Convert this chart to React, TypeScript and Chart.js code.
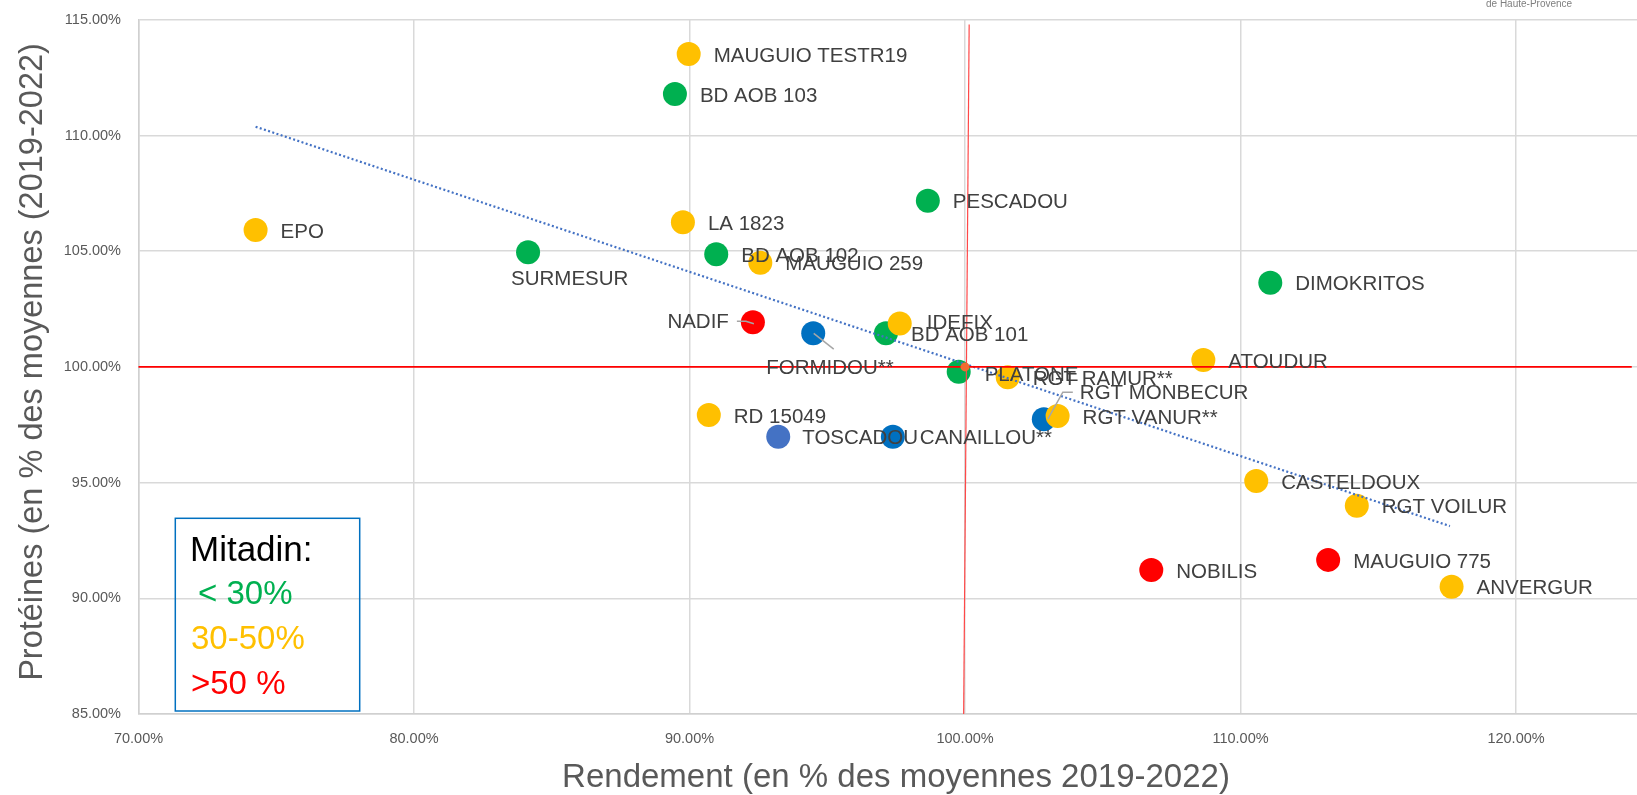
import React, { useEffect, useRef } from "react";
import { Chart, registerables } from "chart.js";

Chart.register(...registerables);

// ---------- data ----------
const varieties = [
  "MAUGUIO TESTR19", "BD AOB 103", "PESCADOU", "LA 1823", "EPO", "BD AOB 102",
  "MAUGUIO 259", "SURMESUR", "DIMOKRITOS", "NADIF", "IDEFIX", "FORMIDOU**",
  "BD AOB 101", "ATOUDUR", "PLATONE", "RGT RAMUR**", "RGT MONBECUR", "RGT VANUR**",
  "RD 15049", "TOSCADOU", "CANAILLOU**", "CASTELDOUX", "RGT VOILUR", "NOBILIS",
  "MAUGUIO 775", "ANVERGUR",
];
// Rendement (% of 2019-2022 mean)
const rendement = [
  89.97, 89.47, 98.65, 89.76, 74.25, 90.97,
  92.57, 84.14, 111.08, 92.3, 97.63, 94.49,
  97.13, 108.65, 99.77, 101.55, 102.86, 103.36,
  90.7, 93.22, 97.38, 110.57, 114.22, 106.76,
  113.18, 117.66,
];
// Protéines (% of 2019-2022 mean)
const proteines = [
  113.52, 111.79, 107.18, 106.25, 105.92, 104.87,
  104.5, 104.95, 103.64, 101.93, 101.88, 101.45,
  101.45, 100.3, 99.79, 99.55, 97.74, 97.88,
  97.92, 96.98, 96.98, 95.07, 94.0, 91.22,
  91.66, 90.5,
];
// Mitadin class: low (<30%), mid (30-50%), high (>50%), nd / nd2 (not classified)
const mitadin = [
  "mid", "low", "low", "mid", "mid", "low",
  "mid", "low", "low", "high", "mid", "nd",
  "low", "mid", "low", "mid", "nd", "mid",
  "mid", "nd2", "nd", "mid", "mid", "high",
  "high", "mid",
];
// Linear trend line endpoints
const trendX = [74.25, 117.6];
const trendY = [110.38, 93.12];
// Reference lines at 100 %
const refHX = [69.9, 124.2];
const refHY = [100, 100];
const refVX = [100.15, 99.95];
const refVY = [114.8, 85];
const centerX = [100];
const centerY = [100];
// Axis ticks
const xTicks = [70, 80, 90, 100, 110, 120];
const yMin = 85;
const yMax = 115;
const xMin = 70;
const xMax = 124.39;

const legendTitle = "Mitadin:";
const legendItems = ["< 30%", "30-50%", ">50 %"];
const xTitle = "Rendement (en % des moyennes 2019-2022)";
const yTitle = "Protéines (en % des moyennes (2019-2022)";
const logoText = "de Haute-Provence";

// ---------- styles / layout ----------
const FONT = "'Liberation Sans', Arial, sans-serif";
const groupColors: Record<string, string> = {
  low: "#00B050",
  mid: "#FFC000",
  high: "#FF0000",
  nd: "#0070C0",
  nd2: "#4472C4",
};
const groupOrder: Record<string, number> = { mid: 3, high: 4, low: 5, nd: 6, nd2: 7 };
const legendColors = ["#00B050", "#FFC000", "#FF0000"];

type Place = { dx: number; dy: number; align: CanvasTextAlign };
const defaultPlace: Place = { dx: 25, dy: 2, align: "left" };
const labelPlace: Record<string, Place> = {
  SURMESUR: { dx: -17, dy: 27, align: "left" },
  NADIF: { dx: -24, dy: 0, align: "right" },
  "FORMIDOU**": { dx: -47, dy: 35, align: "left" },
  "RGT MONBECUR": { dx: 36, dy: -26, align: "left" },
  IDEFIX: { dx: 27, dy: 0, align: "left" },
  PLATONE: { dx: 26, dy: 4, align: "left" },
  TOSCADOU: { dx: 24, dy: 1.5, align: "left" },
  "CANAILLOU**": { dx: 27, dy: 1.5, align: "left" },
};
const leaders: Record<string, number[][]> = {
  NADIF: [[-16, -1], [-7, -1], [1, 1.5]],
  "FORMIDOU**": [[0.5, 0], [20.5, 15.7]],
  "RGT MONBECUR": [[4, 0], [19, -27], [29, -27]],
};

const overlay = {
  id: "overlay",
  afterDatasetsDraw(chart: any) {
    const ctx: CanvasRenderingContext2D = chart.ctx;
    const xs = chart.scales.x;
    const ys = chart.scales.y;
    ctx.save();
    // leader lines
    ctx.strokeStyle = "#A6A6A6";
    ctx.lineWidth = 1.5;
    Object.keys(leaders).forEach((name) => {
      const i = varieties.indexOf(name);
      const px = xs.getPixelForValue(rendement[i]);
      const py = ys.getPixelForValue(proteines[i]);
      ctx.beginPath();
      leaders[name].forEach(([dx, dy], k) => {
        if (k === 0) ctx.moveTo(px + dx, py + dy);
        else ctx.lineTo(px + dx, py + dy);
      });
      ctx.stroke();
    });
    // data labels
    ctx.font = `20.5px ${FONT}`;
    ctx.fillStyle = "#404040";
    ctx.textBaseline = "middle";
    varieties.forEach((name, i) => {
      const p = labelPlace[name] || defaultPlace;
      const px = xs.getPixelForValue(rendement[i]);
      const py = ys.getPixelForValue(proteines[i]);
      ctx.textAlign = p.align;
      ctx.fillText(name, px + p.dx, py + p.dy);
    });
    ctx.restore();
  },
  afterDraw(chart: any) {
    const ctx: CanvasRenderingContext2D = chart.ctx;
    ctx.save();
    // Legend box
    ctx.strokeStyle = "#0070C0";
    ctx.lineWidth = 1.5;
    ctx.strokeRect(175.3, 518.3, 184.4, 192.7);
    ctx.textAlign = "left";
    ctx.textBaseline = "alphabetic";
    ctx.font = `35px ${FONT}`;
    ctx.fillStyle = "#000000";
    ctx.fillText(legendTitle, 190, 560.5);
    ctx.font = `33px ${FONT}`;
    const ys = [604, 649, 694];
    const xsL = [198, 191, 191];
    legendItems.forEach((t, k) => {
      ctx.fillStyle = legendColors[k];
      ctx.fillText(t, xsL[k], ys[k]);
    });
    // axis titles
    ctx.fillStyle = "#595959";
    ctx.font = `33px ${FONT}`;
    ctx.textAlign = "center";
    ctx.fillText(xTitle, 896, 787);
    ctx.font = `32.5px ${FONT}`;
    ctx.save();
    ctx.translate(42, 362);
    ctx.rotate(-Math.PI / 2);
    ctx.fillText(yTitle, 0, 0);
    ctx.restore();
    // logo fragment
    ctx.font = `10px ${FONT}`;
    ctx.fillStyle = "#7F7F7F";
    ctx.textAlign = "left";
    ctx.textBaseline = "middle";
    ctx.fillText(logoText, 1486, 4);
    ctx.restore();
  },
};

export default function App() {
  const ref = useRef<HTMLCanvasElement>(null);
  useEffect(() => {
    const canvas = ref.current!;
    const groups = ["mid", "high", "low", "nd", "nd2"];
    const pointSets = groups.map((g) => ({
      type: "scatter" as const,
      label: g,
      data: varieties
        .map((_, i) => i)
        .filter((i) => mitadin[i] === g)
        .map((i) => ({ x: rendement[i], y: proteines[i] })),
      backgroundColor: groupColors[g],
      borderColor: groupColors[g],
      pointRadius: 12,
      pointHoverRadius: 12,
      pointBorderWidth: 0,
      showLine: false,
      order: groupOrder[g],
    }));
    const lineSet = (xs: number[], ys: number[], color: string, width: number, dash: number[], order: number) => ({
      type: "scatter" as const,
      label: "line",
      data: xs.map((x, i) => ({ x, y: ys[i] })),
      borderColor: color,
      backgroundColor: color,
      borderWidth: width,
      borderDash: dash,
      pointRadius: 0,
      pointHoverRadius: 0,
      showLine: true,
      fill: false,
      order,
    });
    const chart = new Chart(canvas, {
      type: "scatter",
      data: {
        datasets: [
          {
            type: "scatter",
            label: "center",
            data: centerX.map((x, i) => ({ x, y: centerY[i] })),
            backgroundColor: "#F26B30",
            borderColor: "#F26B30",
            pointRadius: 4.5,
            pointBorderWidth: 0,
            showLine: false,
            order: 0,
          } as any,
          lineSet(refHX, refHY, "#FF0000", 1.6, [], 1),
          lineSet(refVX, refVY, "#FF4848", 1.2, [], 1),
          lineSet(trendX, trendY, "#4472C4", 2.2, [2, 2.4], 2),
          ...pointSets,
        ] as any,
      },
      options: {
        responsive: false,
        animation: false,
        events: [],
        layout: { autoPadding: false, padding: { top: 19.8, left: 0, right: 0, bottom: 0 } },
        plugins: { legend: { display: false }, tooltip: { enabled: false }, title: { display: false } },
        scales: {
          x: {
            type: "linear",
            min: xMin,
            max: xMax,
            afterBuildTicks: (scale: any) => {
              scale.ticks = xTicks.map((v) => ({ value: v }));
            },
            afterFit: (scale: any) => {
              scale.height = 81;
              scale.paddingLeft = 0;
              scale.paddingRight = 0;
            },
            grid: { color: "#D9D9D9", lineWidth: 1.5, drawTicks: false },
            border: { display: true, color: "#D0D0D0", width: 1.5 },
            ticks: {
              padding: 16,
              color: "#595959",
              font: { family: FONT, size: 14.5 },
              callback: (v: any) => Number(v).toFixed(2) + "%",
            },
          },
          y: {
            type: "linear",
            min: yMin,
            max: yMax,
            afterFit: (scale: any) => {
              scale.width = 138.5;
              scale.paddingTop = 0;
              scale.paddingBottom = 0;
            },
            grid: { color: "#D9D9D9", lineWidth: 1.5, drawTicks: false },
            border: { display: true, color: "#D0D0D0", width: 1.5 },
            ticks: {
              stepSize: 5,
              padding: 17.5,
              color: "#595959",
              font: { family: FONT, size: 14.5 },
              callback: (v: any) => Number(v).toFixed(2) + "%",
            },
          },
        },
      } as any,
      plugins: [overlay],
    });
    return () => chart.destroy();
  }, []);
  return (
    <div style={{ position: "absolute", left: 0, top: 0, width: 1637, height: 795, background: "#fff" }}>
      <canvas ref={ref} width={1637} height={795} style={{ width: 1637, height: 795, display: "block" }} />
    </div>
  );
}
